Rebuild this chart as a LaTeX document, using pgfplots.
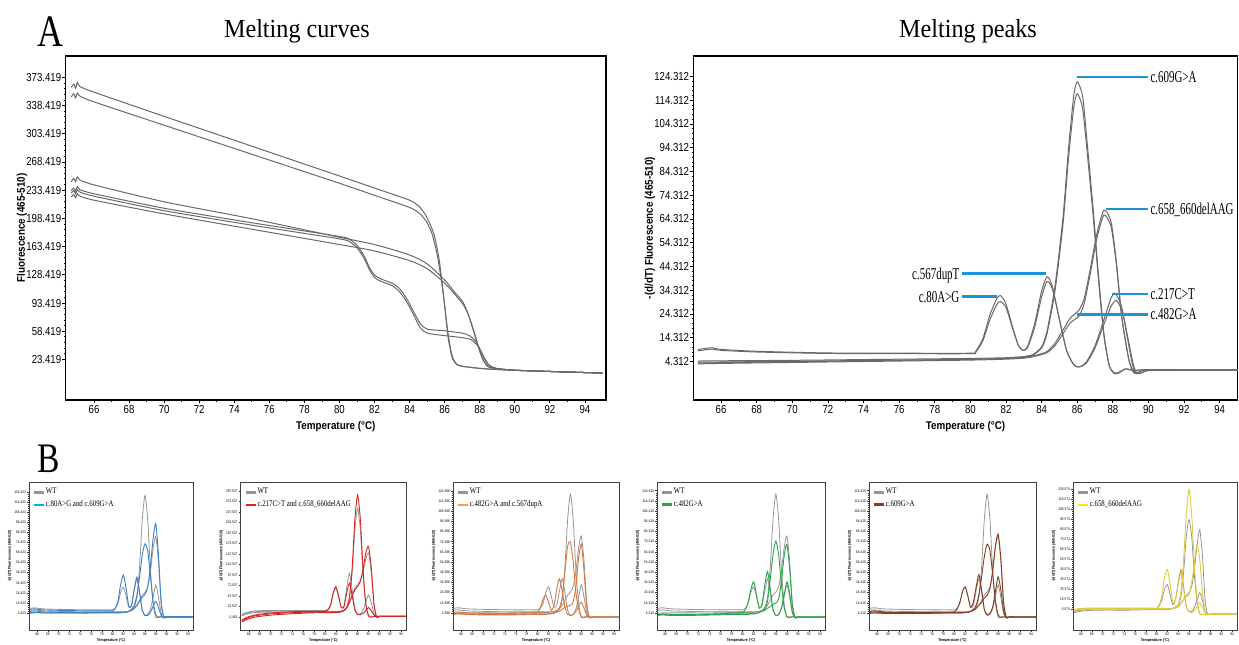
\documentclass[border=0pt]{standalone}
\usepackage{fontspec}
\usepackage{pgfplots}
\usepackage{pgfplotstable}
\pgfplotsset{compat=1.18}
\setmainfont{Liberation Serif}
\newfontfamily\ttlfont[FakeStretch=0.93]{Liberation Serif}
\newfontfamily\annfont[FakeStretch=0.66]{Liberation Serif}
\newfontfamily\legfont[FakeStretch=0.8]{Liberation Serif}
\newfontfamily\tckfont[FakeStretch=0.83]{Liberation Sans}
\newfontfamily\axlfont[FakeStretch=0.88]{Liberation Sans}

\definecolor{crv}{RGB}{105,105,105}
\definecolor{annc}{RGB}{28,148,218}
\definecolor{wtg}{RGB}{150,150,150}
\definecolor{mblue}{RGB}{60,128,195}
\definecolor{lblue}{RGB}{0,172,235}
\definecolor{mred}{RGB}{215,35,35}
\definecolor{morange}{RGB}{215,120,60}
\definecolor{lorange}{RGB}{245,165,70}
\definecolor{mgreen}{RGB}{40,165,70}
\definecolor{mbrown}{RGB}{135,60,30}
\definecolor{myellow}{RGB}{225,205,60}
\definecolor{lyellow}{RGB}{250,232,0}

% WT curves shared by the small plots
\pgfplotstableread{
T g1 g2 g3
64.7 7 4 9
65.5 7.5 4.5 9.5
67 6.5 4.5 8.5
70 6 4.5 8
75 5.5 4.5 7.5
79 5.5 5 7.5
80 5.5 5 7.5
80.5 5.5 5 9
81 5.5 5 14
81.5 5.5 5 25
82 5.5 5 30
82.5 5.5 5.5 21
83 6 6 10
83.5 7 7 12
84 10 9 26
84.5 20 12 38
85 50 17 24
85.5 97 22 7
86 121 25 2
86.5 97 30 3
87 48 45 8
87.5 14 68 20
88 0 80 32
88.5 0.5 55 20
89 1 14 4
89.5 0.5 0 -0.5
90 0.5 0.5 0.5
91 0.5 0.5 0.5
93 0.5 0.5 0.5
95 0.5 0.5 0.5
}\wt

\pgfplotstableread{
T a b c
64.7 6 8 5
65.5 6.5 8.5 5
67 5.5 7.5 4.5
70 5 7 4.5
75 4.5 6.5 4.5
79 4.5 6.5 5
80 4.5 6.5 5
80.5 4.5 9 5
81 4.5 16 5
81.5 4.5 33 5
82 5 42 5
82.5 5 29 5.5
83 6 11 6
83.5 8 12 7
84 12 28 9
84.5 22 40 12
85 40 25 16
85.5 62 7 20
86 73 2 23
86.5 66 2 30
87 42 5 50
87.5 16 11 78
88 3 16 93
88.5 0 10 62
89 0.5 2 15
89.5 0.5 -0.5 0
90 0.5 0.5 0.5
91 0.5 0.5 0.5
93 0.5 0.5 0.5
95 0.5 0.5 0.5
}\pa

\pgfplotstableread{
T g1 g2 g3 a b c
64.7 2 0 4 -12 -15 -10
65.5 6 4 8 -6 -9 -4
67 10 8 12 0 -3 2
70 11 9 13 5 2 7
75 11 9 13 8.5 6 10.5
79 11 9 13 9.5 8 11
80 11 9 13 9.5 8 11
80.5 11 9 16 9.5 8 14
81 11 9 26 9.5 8 24
81.5 11 9 52 9.5 8 54
82 11 9 66 10 8 70
82.5 11.5 9 45 10 8.5 48
83 12 10 20 11 10 20
83.5 14 13 25 13 13 22
84 20 20 68 20 20 55
84.5 42 32 102 45 32 78
85 105 50 62 115 48 48
85.5 205 66 18 230 62 14
86 256 75 4 288 70 4
86.5 205 85 5 230 82 3
87 100 105 14 110 110 6
87.5 30 135 32 30 150 13
88 2 150 50 0 165 20
88.5 -1 105 32 -3 118 13
89 0 28 6 -1 30 3
89.5 -1 -2 -2 -1 -3 -2
90 -1 -1 -1 -1 -1 -1
91 -1 -1 -1 -1 -1 -1
93 -1 -1 -1 -1 -1 -1
95 -1 -1 -1 -1 -1 -1
}\pb

\pgfplotstableread{
T a b c
64.7 3 4 5
65.5 3.5 4 5.5
67 3 3.5 4.5
70 2.5 3 4
75 2.5 3 4
79 3 3.5 4.5
80 3 3.5 5
80.5 3 3.5 10
81 3 3.5 18
81.5 3 3.5 22
82 3.5 4 15
82.5 3.5 4 7
83 4 5 12
83.5 5 6 28
84 8 6 38
84.5 18 8 26
85 45 10 10
85.5 70 11 3
86 74 12 2
86.5 55 15 3
87 25 30 6
87.5 8 58 11
88 1 72 15
88.5 0 45 9
89 0.5 10 2
89.5 0.5 0 0
90 0.5 0.5 0.5
91 0.5 0.5 0.5
93 0.5 0.5 0.5
95 0.5 0.5 0.5
}\pc

\pgfplotstableread{
T a b c
64.7 2 2.5 3
65.5 2.5 3 3.5
67 2 2.5 3
70 2 2.5 3
75 2.5 3 3.5
79 3 3.5 4.5
80 3 3.5 5
80.5 3 3.5 8
81 3 3.5 15
81.5 3.5 4 28
82 3.5 4 35
82.5 4 4 22
83 5 5 9
83.5 6 6 13
84 8 7 32
84.5 16 9 45
85 38 11 28
85.5 62 13 8
86 75 14 2
86.5 62 18 3
87 33 35 9
87.5 10 60 22
88 1 72 35
88.5 0 48 24
89 0.5 11 5
89.5 0.5 0 -0.5
90 0.5 0.5 0.5
91 0.5 0.5 0.5
93 0.5 0.5 0.5
95 0.5 0.5 0.5
}\pd

\pgfplotstableread{
T a b c
64.7 5 4 6
65.5 5.5 4.5 6.5
67 5 4 5.5
70 4.5 4 5
75 4.5 4 5
79 4.5 4.5 5
80 4.5 4.5 5.5
80.5 4.5 4.5 8
81 4.5 4.5 14
81.5 4.5 4.5 25
82 5 5 30
82.5 5 5 21
83 6 6 10
83.5 8 7 15
84 12 9 30
84.5 22 12 42
85 40 15 27
85.5 60 19 8
86 72 22 3
86.5 66 28 4
87 43 45 10
87.5 17 70 25
88 3 82 40
88.5 0 58 27
89 0.5 15 6
89.5 0.5 0 -0.5
90 0.5 0.5 0.5
91 0.5 0.5 0.5
93 0.5 0.5 0.5
95 0.5 0.5 0.5
}\pe

\pgfplotstableread{
T g1 g2 g3 a b c
64.7 3 2 4 4 3 5
65.5 4 3 5 5.5 4.5 6
67 5 4 6 6 5 6.5
70 5 4.5 6 6 5 6.5
75 5 4.5 6 6 5 6.5
79 5.5 5 6 6 5.5 6.5
80 5.5 5 6 6 5.5 6.5
80.5 5.5 5 9 6 5.5 10
81 5.5 5 15 6 5.5 20
81.5 5.5 5 26 6 5.5 38
82 5.5 5 30 6 5.5 45
82.5 5.5 5.5 20 6 6 30
83 6 6 10 6.5 6.5 12
83.5 7 7 15 8 7 15
84 9 8 32 10 8 30
84.5 18 11 45 22 11 42
85 42 15 28 55 15 26
85.5 78 19 8 100 18 8
86 95 22 3 125 20 3
86.5 78 28 3 100 32 2
87 40 45 7 50 52 4
87.5 12 70 15 15 70 8
88 1 85 22 1 55 12
88.5 0 58 14 0 22 7
89 0.5 14 3 0.5 4 2
89.5 0.5 0 0 0.5 0 0
90 0.5 0.5 0.5 0.5 0.5 0.5
91 0.5 0.5 0.5 0.5 0.5 0.5
93 0.5 0.5 0.5 0.5 0.5 0.5
95 0.5 0.5 0.5 0.5 0.5 0.5
}\pf

\tikzset{lab/.style={font=\annfont\fontsize{8.3}{9}\selectfont, inner sep=1.2pt, yshift=-2.7pt}}

\pgfplotsset{
  bigax/.style={scale only axis, anchor=north west, height=172pt,
    axis line style={line width=0.6pt},
    tick align=outside, tick pos=left,
    major tick length=1.6pt, minor tick length=1pt,
    every tick/.style={black, line width=0.4pt},
    xtick={66,68,...,94}, minor x tick num=1, minor y tick num=4,
    /pgf/number format/assume math mode=true,
    tick label style={font=\tckfont\fontsize{5.8}{6}\selectfont, inner sep=0.4pt},
    yticklabel style={/pgf/number format/.cd, fixed, fixed zerofill, precision=3, 1000 sep={}},
    xticklabel style={yshift=-0.6pt},
    xlabel={Temperature (°C)},
    label style={font=\axlfont\bfseries\fontsize{5.6}{6}\selectfont, inner sep=0.5pt},
    xlabel style={yshift=-2.5pt},
    ylabel style={yshift=-1.5pt},
    every axis plot/.append style={line width=0.5pt, smooth, tension=0.4, no markers},
    clip=true},
  smallax/.style={scale only axis, anchor=north west, height=74pt,
    xmin=64.5, xmax=94.9,
    axis line style={line width=0.4pt, black!75},
    tick align=outside, tick pos=left,
    major tick length=0.8pt, minor tick length=0.45pt,
    every tick/.style={black!80, line width=0.25pt},
    xtick={66,68,...,94}, minor x tick num=1, minor y tick num=4,
    /pgf/number format/assume math mode=true,
    tick label style={font=\tckfont\fontsize{1.9}{2}\selectfont, inner sep=0.6pt},
    yticklabel style={/pgf/number format/.cd, fixed, fixed zerofill, precision=3, 1000 sep={}},
    xlabel={Temperature (°C)}, ylabel={-(d/dT) Fluorescence (465-510)},
    label style={font=\axlfont\bfseries\fontsize{2}{2.2}\selectfont, inner sep=0.6pt},
    legend style={at={(axis description cs:0,1)}, anchor=north west, draw=none, fill=none,
      font=\legfont\fontsize{4.3}{5}\selectfont, inner xsep=1.5pt, inner ysep=2.6pt,
      row sep=1.2pt, cells={anchor=west}, nodes={inner sep=0.3pt}},
    legend image code/.code={\draw[#1, line width=1.4pt] (0pt,0pt) -- (5pt,0pt);},
    every axis plot/.append style={line width=0.45pt, smooth, tension=0.4, no markers},
    clip=true},
  gl/.style={color=wtg, line width=0.4pt, forget plot},
  ml/.style={color=#1, forget plot},
}

\begin{document}
\begin{tikzpicture}
\useasboundingbox (0,0) rectangle (619.5pt,322pt);

% ---------- A: melting curves ----------
\begin{axis}[bigax, at={(32.8pt,294pt)}, width=270.2pt,
  xmin=64.38, xmax=95.2, ymin=-26.9, ymax=399.9,
  ytick={23.419,58.419,...,373.43},
  ylabel={Fluorescence (465-510)},
  title={Melting curves},
  every axis title/.style={at={(axis description cs:0.428,1)}, anchor=base, yshift=9pt,
    font=\ttlfont\fontsize{13}{15}\selectfont}]
\addplot[crv] coordinates {(64.7,361)(64.85,365)(64.95,360)(65.05,367)(65.2,362)(66,355)(70,325)(75,288)(80,251)(82,236)(84,221)(84.6,212)(85,199)(85.4,178)(85.7,145)(86.0,90)(86.2,50)(86.45,24)(86.8,16)(87.5,13.5)(88.5,11.5)(90,10)(92,8.5)(95,6.5)};
\addplot[crv] coordinates {(64.7,349)(64.85,353)(64.95,348)(65.05,354)(65.2,350)(66,343)(70,314)(75,278)(80,242)(82,227)(84,212)(84.6,204)(85,193)(85.3,178)(85.6,150)(85.9,108)(86.15,62)(86.4,30)(86.7,17)(87.5,13.5)(88.5,11.5)(90,10)(92,8.5)(95,6.5)};
\addplot[crv] coordinates {(64.7,244)(64.85,248)(64.95,244)(65.05,250)(65.2,246)(66,240)(70,219)(75,198)(80,175)(82,166)(84,153)(85,142)(86,122)(86.6,106)(87,96)(87.3,82)(87.6,62)(87.9,40)(88.2,22)(88.5,14)(89,12)(90,10)(92,8.5)(95,6.5)};
\addplot[crv] coordinates {(64.7,225)(64.85,228)(64.95,224)(65.05,229)(65.2,226)(66,221)(70,204)(75,185)(80,166)(82,158)(84,146)(85,136)(86,118)(86.7,101)(87.1,90)(87.4,76)(87.7,56)(88.0,34)(88.3,19)(88.6,13.5)(89,12)(90,10)(92,8.5)(95,6.5)};
\addplot[crv] coordinates {(64.7,233)(64.85,236)(64.95,232)(65.05,238)(65.2,234)(66,229)(70,211)(75,193)(80,176)(80.6,172)(81,165)(81.4,152)(81.7,138)(82,128)(82.4,123)(83,118)(83.4,112)(83.8,100)(84.2,84)(84.6,68)(85,61)(86,59)(87,56)(87.4,53)(87.8,45)(88.1,32)(88.4,19)(88.7,14)(89,12)(90,10)(92,8.5)(95,6.5)};
\addplot[crv] coordinates {(64.7,230)(64.85,233)(64.95,229)(65.05,234)(65.2,231)(66,226)(70,208)(75,190)(80,173)(80.6,169)(81,162)(81.4,149)(81.7,135)(82,125)(82.4,120)(83,115)(83.4,108)(83.8,96)(84.2,80)(84.6,63)(85,56)(86,53)(87,50.5)(87.5,48)(87.9,40)(88.2,28)(88.5,17)(88.8,13.5)(89,12)(90,10)(92,8.5)(95,6.5)};
\end{axis}

% ---------- A: melting peaks ----------
\begin{axis}[bigax, at={(346.75pt,294pt)}, width=272pt,
  xmin=64.45, xmax=95.0, ymin=-11.9, ymax=132.9,
  ytick={4.312,14.312,...,124.32},
  ylabel={-(d/dT) Fluorescence (465-510)},
  title={Melting peaks},
  every axis title/.style={at={(axis description cs:0.5046,1)}, anchor=base, yshift=9pt,
    font=\ttlfont\fontsize{13}{15}\selectfont}]
\addplot[crv] coordinates {(64.7,4.5)(66,4.6)(70,4.8)(75,5.2)(80,5.6)(82,5.9)(83,6.4)(83.5,7.2)(84,10.5)(84.3,17)(84.75,36)(85.2,65)(85.5,93)(85.8,116)(86.0,122)(86.3,116)(86.55,97)(86.9,68)(87.2,40)(87.5,16)(87.8,2.5)(88.1,-0.9)(88.4,-0.3)(88.7,1.2)(89.2,0.5)(89.9,0.8)(95,0.8)};
\addplot[crv] coordinates {(64.7,3.6)(66,3.8)(70,4.2)(75,4.7)(80,5.2)(82,5.6)(83,6.2)(83.5,7)(84,10)(84.3,16)(84.75,34)(85.2,62)(85.5,89)(85.8,111)(86.0,117)(86.3,111)(86.55,93)(86.9,65)(87.2,38)(87.5,15)(87.8,2.5)(88.1,-0.5)(88.4,0)(88.7,1.2)(89.2,0.5)(89.9,0.8)(95,0.8)};
\addplot[crv] coordinates {(64.7,9.3)(65.1,9.8)(65.5,10.1)(66,9.4)(68,8.6)(72,7.9)(76,7.8)(80,7.8)(80.3,8.6)(80.7,14)(81.1,24)(81.5,31)(81.7,32)(82.0,28.5)(82.4,18)(82.7,11)(82.95,9)(83.2,10.5)(83.6,20)(84.0,34)(84.3,40)(84.6,36)(85.0,22)(85.4,9)(85.8,3)(86.1,2)(86.5,4)(87.0,11)(87.5,22)(87.9,31)(88.15,33)(88.5,27)(88.8,15)(89.1,3)(89.3,-0.8)(89.6,-0.5)(90,0.5)(92,0.8)(95,0.8)};
\addplot[crv] coordinates {(64.7,8.8)(65.1,9.2)(65.5,9.5)(66,9.0)(68,8.3)(72,7.7)(76,7.6)(80,7.6)(80.3,8.3)(80.7,13)(81.1,22)(81.5,28.5)(81.7,29.5)(82.0,27)(82.4,17.5)(82.7,11)(82.95,9)(83.2,10)(83.6,18.5)(84.0,31.5)(84.3,38)(84.6,35)(85.0,22)(85.4,9)(85.8,3)(86.1,2)(86.5,3.5)(87.0,10)(87.5,20)(87.9,27.5)(88.2,30)(88.55,25)(88.85,14)(89.15,3)(89.35,-0.5)(89.7,-0.3)(90,0.5)(92,0.8)(95,0.8)};
\addplot[crv] coordinates {(64.7,4.0)(66,4.1)(70,4.4)(75,4.8)(80,5.2)(82,5.6)(83,6.0)(83.6,6.8)(84.3,8.5)(84.75,12)(85.2,17.5)(85.6,22.5)(86.1,26)(86.4,31)(86.75,44)(87.1,58)(87.5,68)(87.9,63)(88.2,46)(88.5,23)(88.9,5)(89.2,-0.6)(89.6,0.2)(90,0.8)(95,0.8)};
\addplot[crv] coordinates {(64.7,3.3)(66,3.5)(70,3.9)(75,4.4)(80,4.9)(82,5.3)(83,5.7)(83.6,6.4)(84.3,8)(84.75,11)(85.2,16)(85.6,20.5)(86.1,23.5)(86.4,29)(86.75,42)(87.1,56)(87.5,66)(87.9,61)(88.2,45)(88.5,23)(88.9,5)(89.2,-0.4)(89.6,0.3)(90,0.8)(95,0.8)};
% annotations
\draw[annc, line width=1.35pt] (axis cs:85.97,124.05) -- (axis cs:89.96,124.05);
\node[lab, anchor=base west] at (axis cs:89.96,124.05) {c.609G>A};
\draw[annc, line width=1.35pt] (axis cs:87.6,68.55) -- (axis cs:89.96,68.55);
\node[lab, anchor=base west] at (axis cs:89.96,68.55) {c.658\_660delAAG};
\draw[annc, line width=1.35pt] (axis cs:79.54,41.2) -- (axis cs:84.24,41.2);
\node[lab, anchor=base east] at (axis cs:79.54,41.2) {c.567dupT};
\draw[annc, line width=1.35pt] (axis cs:79.54,31.6) -- (axis cs:81.47,31.6);
\node[lab, anchor=base east] at (axis cs:79.54,31.6) {c.80A>G};
\draw[annc, line width=1.35pt] (axis cs:87.97,32.7) -- (axis cs:89.96,32.7);
\node[lab, anchor=base west] at (axis cs:89.96,32.7) {c.217C>T};
\draw[annc, line width=1.35pt] (axis cs:85.97,24.2) -- (axis cs:89.96,24.2);
\node[lab, anchor=base west] at (axis cs:89.96,24.2) {c.482G>A};
\end{axis}

% ---------- B: small plots ----------
\begin{axis}[smallax, at={(14.5pt,81pt)}, width=82pt,
  ymin=-12.5, ymax=134.3, ytick={4.423,14.423,...,124.43}]
\addlegendimage{wtg}\addlegendentry{WT}
\addlegendimage{lblue}\addlegendentry{c.80A>G and c.609G>A}
\addplot[gl] table[x=T,y=g1]{\wt};
\addplot[gl] table[x=T,y=g2]{\wt};
\addplot[gl] table[x=T,y=g3]{\wt};
\addplot[ml=mblue] table[x=T,y=a]{\pa};
\addplot[ml=mblue] table[x=T,y=b]{\pa};
\addplot[ml=mblue] table[x=T,y=c]{\pa};
\end{axis}

\begin{axis}[smallax, at={(120.35pt,81pt)}, width=82.65pt,
  ymin=-33.4, ymax=319, ytick={-2.463,22.537,...,297.54}]
\addlegendimage{wtg}\addlegendentry{WT}
\addlegendimage{mred}\addlegendentry{c.217C>T and c.658\_660delAAG}
\addplot[gl] table[x=T,y=g1]{\pb};
\addplot[gl] table[x=T,y=g2]{\pb};
\addplot[gl] table[x=T,y=g3]{\pb};
\addplot[ml=mred] table[x=T,y=a]{\pb};
\addplot[ml=mred] table[x=T,y=b]{\pb};
\addplot[ml=mred] table[x=T,y=c]{\pb};
\end{axis}

\begin{axis}[smallax, at={(226.5pt,81pt)}, width=83pt,
  ymin=-12.3, ymax=133, ytick={4.386,14.386,...,124.39}]
\addlegendimage{wtg}\addlegendentry{WT}
\addlegendimage{lorange}\addlegendentry{c.482G>A and c.567dupA}
\addplot[gl] table[x=T,y=g1]{\wt};
\addplot[gl] table[x=T,y=g2]{\wt};
\addplot[gl] table[x=T,y=g3]{\wt};
\addplot[ml=morange] table[x=T,y=a]{\pc};
\addplot[ml=morange] table[x=T,y=b]{\pc};
\addplot[ml=morange] table[x=T,y=c]{\pc};
\end{axis}

\begin{axis}[smallax, at={(328.5pt,81pt)}, width=84pt,
  ymin=-12.3, ymax=133, ytick={4.41,14.41,...,124.42}]
\addlegendimage{wtg}\addlegendentry{WT}
\addlegendimage{mgreen}\addlegendentry{c.482G>A}
\addplot[gl] table[x=T,y=g1]{\wt};
\addplot[gl] table[x=T,y=g2]{\wt};
\addplot[gl] table[x=T,y=g3]{\wt};
\addplot[ml=mgreen] table[x=T,y=a]{\pd};
\addplot[ml=mgreen] table[x=T,y=b]{\pd};
\addplot[ml=mgreen] table[x=T,y=c]{\pd};
\end{axis}

\begin{axis}[smallax, at={(434.5pt,81pt)}, width=83.5pt,
  ymin=-12.3, ymax=133, ytick={4.41,14.41,...,124.42}]
\addlegendimage{wtg}\addlegendentry{WT}
\addlegendimage{mbrown}\addlegendentry{c.609G>A}
\addplot[gl] table[x=T,y=g1]{\wt};
\addplot[gl] table[x=T,y=g2]{\wt};
\addplot[gl] table[x=T,y=g3]{\wt};
\addplot[ml=mbrown] table[x=T,y=a]{\pe};
\addplot[ml=mbrown] table[x=T,y=b]{\pe};
\addplot[ml=mbrown] table[x=T,y=c]{\pe};
\end{axis}

\begin{axis}[smallax, at={(536.5pt,81pt)}, width=82pt,
  ymin=-15.4, ymax=132.6, ytick={5.574,15.574,...,125.58}]
\addlegendimage{wtg}\addlegendentry{WT}
\addlegendimage{lyellow}\addlegendentry{c.658\_660delAAG}
\addplot[gl] table[x=T,y=g1]{\pf};
\addplot[gl] table[x=T,y=g2]{\pf};
\addplot[gl] table[x=T,y=g3]{\pf};
\addplot[ml=myellow] table[x=T,y=a]{\pf};
\addplot[ml=myellow] table[x=T,y=b]{\pf};
\addplot[ml=myellow] table[x=T,y=c]{\pf};
\end{axis}

\node[font=\legfont\fontsize{22.5}{24}\selectfont, anchor=base, inner sep=0pt] at (25.35pt,298.5pt) {A};
\node[font=\legfont\fontsize{21}{23}\selectfont, anchor=base, inner sep=0pt] at (24.15pt,85.5pt) {B};
\end{tikzpicture}
\end{document}
